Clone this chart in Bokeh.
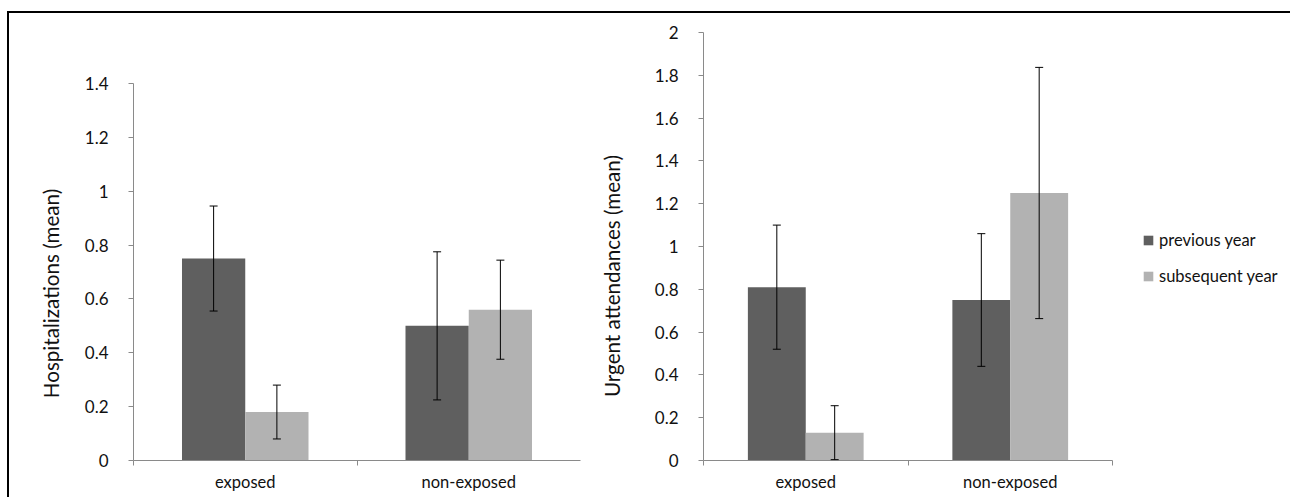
import math
from bokeh.plotting import figure
from bokeh.models import (ColumnDataSource, FixedTicker, Whisker, TeeHead, Legend,
                          LegendItem, Range1d)
from bokeh.layouts import row
from bokeh.embed import file_html
from bokeh.resources import INLINE
from bokeh.core.properties import value

# ---------------- data ----------------
groups = ["exposed", "non-exposed"]
series = ["previous year", "subsequent year"]
colors = ["#5f5f5f", "#b2b2b2"]

hosp_prev = [0.75, 0.50]
hosp_prev_err = [0.195, 0.275]
hosp_subs = [0.18, 0.56]
hosp_subs_err = [0.10, 0.184]

urg_prev = [0.81, 0.75]
urg_prev_err = [0.29, 0.31]
urg_subs = [0.13, 1.25]
urg_subs_err = [0.126, 0.587]

hosp_ticks = [0, 0.2, 0.4, 0.6, 0.8, 1.0, 1.2, 1.4]
hosp_tick_labels = ["0", "0.2", "0.4", "0.6", "0.8", "1", "1.2", "1.4"]
urg_ticks = [0, 0.2, 0.4, 0.6, 0.8, 1.0, 1.2, 1.4, 1.6, 1.8, 2.0]
urg_tick_labels = ["0", "0.2", "0.4", "0.6", "0.8", "1", "1.2", "1.4", "1.6", "1.8", "2"]

titles = ["Hospitalizations (mean)", "Urgent attendances (mean)"]

FONT = "Lato"
TXT = "#111111"
AX = "#8a8a8a"
BAR_W = 0.283
OFF = 0.1415

H = 484          # height of every figure
MB_TOP = 19
MB_BOTTOM = 37
FRAME_H = H - MB_TOP - MB_BOTTOM   # 428


def make_chart(prev, prev_err, subs, subs_err, ticks, tick_labels,
               width, mb_left, mb_right, x_end, y_end, axis_end_ticks):
    p = figure(width=width, height=H, output_backend="svg", toolbar_location=None,
               x_range=Range1d(0, x_end), y_range=Range1d(0, y_end),
               min_border_left=mb_left, min_border_right=mb_right,
               min_border_top=MB_TOP, min_border_bottom=MB_BOTTOM)
    p.outline_line_color = None
    p.xgrid.visible = False
    p.ygrid.visible = False
    p.background_fill_color = "white"
    p.border_fill_color = "white"

    renderers = []
    for vals, errs, off, col in ((prev, prev_err, -OFF, colors[0]),
                                 (subs, subs_err, OFF, colors[1])):
        xs = [i + 0.5 + off for i in range(len(groups))]
        src = ColumnDataSource(dict(
            x=xs, top=vals,
            lower=[v - e for v, e in zip(vals, errs)],
            upper=[v + e for v, e in zip(vals, errs)]))
        r = p.vbar(x="x", top="top", bottom=0, width=BAR_W, source=src,
                   fill_color=col, line_color=None)
        renderers.append(r)
        w = Whisker(base="x", lower="lower", upper="upper", source=src,
                    dimension="height", line_color="black", line_width=1,
                    upper_head=TeeHead(size=8, line_color="black", line_width=1),
                    lower_head=TeeHead(size=8, line_color="black", line_width=1),
                    level="overlay")
        p.add_layout(w)

    # y axis
    ya = p.yaxis[0]
    ya.ticker = FixedTicker(ticks=ticks, minor_ticks=[])
    ya.major_label_overrides = {t: l for t, l in zip(ticks, tick_labels)}
    ya.bounds = (0, ticks[-1])
    ya.axis_line_color = AX
    ya.major_tick_line_color = AX
    ya.major_tick_out = 5
    ya.major_tick_in = 0
    ya.minor_tick_line_color = None
    ya.major_label_standoff = 20
    ya.major_label_text_font = FONT
    ya.major_label_text_font_size = "17px"
    ya.major_label_text_color = TXT

    # x axis
    xa = p.xaxis[0]
    xa.ticker = FixedTicker(ticks=[i + 0.5 for i in range(len(groups))],
                            minor_ticks=axis_end_ticks)
    xa.major_label_overrides = {i + 0.5: g for i, g in enumerate(groups)}
    xa.bounds = (0, len(groups))
    xa.axis_line_color = AX
    xa.major_tick_line_color = None
    xa.major_tick_out = 0
    xa.major_tick_in = 0
    xa.minor_tick_line_color = AX
    xa.minor_tick_out = 5
    xa.minor_tick_in = 0
    xa.major_label_standoff = 6
    xa.major_label_text_font = FONT
    xa.major_label_text_font_size = "16.5px"
    xa.major_label_text_color = TXT
    return p, renderers


def make_title(text, width, cx, cy_from_bottom):
    t = figure(width=width, height=H, output_backend="svg", toolbar_location=None,
               x_range=Range1d(0, width), y_range=Range1d(0, FRAME_H),
               x_axis_type=None, y_axis_type=None,
               min_border_left=0, min_border_right=0,
               min_border_top=MB_TOP, min_border_bottom=MB_BOTTOM)
    t.outline_line_color = None
    t.background_fill_color = "white"
    t.border_fill_color = "white"
    t.text(x=[cx], y=[cy_from_bottom], text=[text], angle=math.pi / 2,
           text_align="center", text_baseline="middle",
           text_font=value(FONT), text_font_size=value("20.6px"), text_color=TXT)
    return t


# left chart: 0 at 460px, 1.4 at 83px, frame 32..460
left_y_end = 1.4 * FRAME_H / (460 - 83)
t1 = make_title(titles[0], 61, 41, 460 - 293)
p1, _ = make_chart(hosp_prev, hosp_prev_err, hosp_subs, hosp_subs_err,
                   hosp_ticks, hosp_tick_labels,
                   width=530, mb_left=63, mb_right=20,
                   x_end=2.0, y_end=left_y_end, axis_end_ticks=[0, 1])

t2 = make_title(titles[1], 40, 11, 460 - 275.5)
frame_w2 = 650 - 63
p2, rs = make_chart(urg_prev, urg_prev_err, urg_subs, urg_subs_err,
                    urg_ticks, urg_tick_labels,
                    width=650, mb_left=63, mb_right=0,
                    x_end=2.0 * frame_w2 / 409.0, y_end=2.0, axis_end_ticks=[0, 1, 2])

legend = Legend(items=[LegendItem(label=series[0], renderers=[rs[0]]),
                       LegendItem(label=series[1], renderers=[rs[1]])],
                location=(439, 174), padding=0, margin=0,
                border_line_color=None, background_fill_alpha=0,
                glyph_width=12, glyph_height=12, label_height=20, spacing=16,
                label_standoff=5, label_text_font=FONT, label_text_font_size="16.5px",
                label_text_color=TXT)
p2.add_layout(legend)

layout = row(t1, p1, t2, p2, margin=(11, 0, 0, 7),
             styles={"border-top": "2px solid black",
                     "border-left": "2px solid black"})

open("out.html", "w").write(file_html(layout, INLINE))
